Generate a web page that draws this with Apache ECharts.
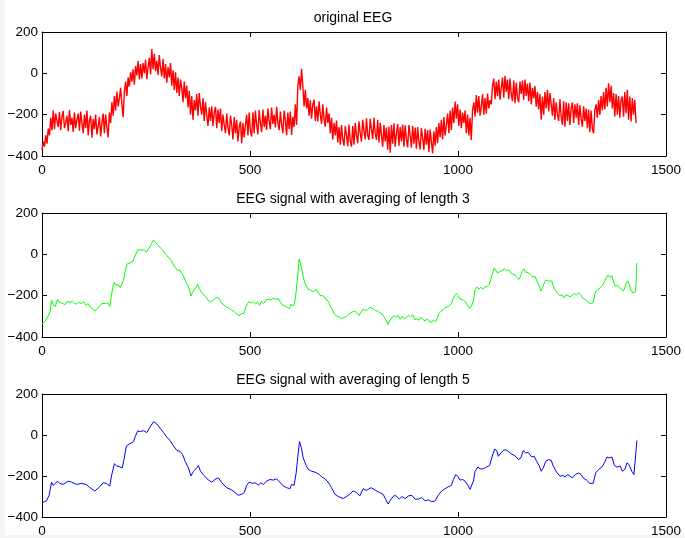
<!DOCTYPE html>
<html><head><meta charset="utf-8">
<script src="https://cdn.jsdelivr.net/npm/echarts@6/dist/echarts.min.js"></script>
<style>html,body{margin:0;padding:0;background:#f5f5f5}
#bg{position:absolute;left:5px;top:0;width:680px;height:535px;background:#fff}
#c{position:absolute;left:0;top:0;width:685px;height:538px}</style>
</head><body><div id="bg"></div><div id="c"></div>
<script>
const titles = ['original EEG', 'EEG signal with averaging of length 3', 'EEG signal with averaging of length 5'];
const xTicks = [0, 500, 1000, 1500];
const yTicks = [-400, -200, 0, 200];
const redStep = 3;
const redY = [
-372,-330,-355,-300,-340,-268,-300,-215,-275,-180,
-270,-195,-230,-260,-186,-275,-210,-182,-265,-240,
-205,-280,-178,-250,-215,-283,-190,-265,-225,-195,
-278,-185,-240,-290,-200,-265,-180,-300,-230,-205,
-312,-220,-270,-200,-295,-255,-210,-305,-240,-195,
-290,-200,-260,-310,-190,-240,-140,-205,-110,-180,
-88,-160,-120,-70,-150,-212,-90,-40,-110,-20,
-65,5,-40,20,-55,35,-10,60,-30,45,
-25,50,0,65,-28,30,75,-5,118,20,
95,10,60,-8,88,25,-15,70,-25,45,
-45,30,-20,50,-60,15,-80,5,-95,-20,
-110,-30,-70,-140,-40,-120,-60,-165,-85,-200,
-110,-225,-130,-180,-100,-205,-95,-160,-200,-120,
-230,-140,-200,-255,-165,-230,-160,-255,-190,-162,
-265,-175,-240,-170,-280,-200,-250,-290,-195,-260,
-300,-205,-250,-320,-212,-290,-225,-330,-260,-232,
-338,-240,-310,-250,-200,-300,-190,-280,-306,-188,
-290,-180,-250,-295,-178,-240,-285,-175,-260,-205,
-274,-170,-230,-270,-165,-245,-200,-262,-162,-240,
-275,-185,-250,-290,-180,-225,-300,-190,-270,-185,
-298,-210,-260,-150,-250,-60,-15,-80,22,-60,
-160,-80,-170,-120,-205,-130,-220,-150,-128,-230,
-160,-233,-135,-200,-245,-150,-220,-258,-165,-240,
-195,-290,-215,-320,-240,-300,-228,-335,-260,-345,
-250,-320,-350,-255,-300,-352,-248,-330,-355,-255,
-345,-240,-300,-338,-232,-290,-330,-225,-280,-320,
-218,-300,-322,-220,-270,-318,-215,-290,-322,-225,
-335,-240,-300,-355,-250,-330,-262,-370,-258,-384,
-250,-340,-242,-355,-290,-245,-350,-260,-330,-248,
-355,-252,-320,-358,-250,-300,-360,-255,-340,-262,
-365,-260,-330,-368,-265,-310,-371,-268,-345,-275,
-380,-272,-330,-387,-280,-350,-260,-338,-240,-310,
-225,-320,-212,-300,-250,-195,-290,-180,-274,-165,
-240,-136,-220,-150,-255,-175,-265,-190,-240,-180,
-290,-200,-300,-215,-322,-180,-140,-209,-105,-190,
-110,-205,-160,-102,-200,-120,-195,-98,-170,-130,
-150,-60,-25,-125,-40,-110,-30,-128,-70,-20,
-118,-12,-90,-30,-125,-25,-100,-135,-35,-144,
-45,-120,-140,-40,-100,-35,-128,-30,-110,-50,
-135,-45,-150,-70,-120,-62,-161,-90,-175,-100,
-225,-112,-200,-90,-170,-80,-185,-95,-150,-205,
-120,-225,-140,-200,-230,-125,-210,-250,-135,-258,
-140,-230,-145,-250,-170,-140,-240,-150,-215,-145,
-250,-155,-220,-258,-160,-230,-170,-265,-175,-285,
-180,-270,-290,-178,-150,-215,-128,-200,-110,-180,
-90,-175,-70,-160,-48,-140,-60,-170,-95,-209,
-100,-200,-110,-215,-130,-112,-210,-90,-193,-80,
-225,-112,-233,-120,-200,-128,-241
];
const greenX = [0,4,8,12,16,20,23,26,29,32,35,38,41,45,50,55,60,64,68,73,78,83,88,94,100,106,111,116,121,127,133,139,144,148,153,158,163,166,170,174,178,183,188,192,196,200,204,208,213,218,222,226,230,234,238,242,246,251,255,259,264,268,272,276,281,286,291,296,301,306,311,316,321,326,331,336,341,346,351,355,358,362,366,370,374,378,382,387,393,399,405,410,415,420,425,430,437,444,450,456,462,468,474,480,486,490,494,498,503,508,513,518,523,528,533,538,544,550,556,562,568,573,578,584,590,595,599,603,607,611,615,618,621,624,628,632,636,640,645,650,655,659,664,668,672,677,682,688,693,698,703,708,714,720,726,732,737,742,747,752,757,762,767,772,777,782,788,794,800,806,812,818,823,828,832,836,841,846,851,856,861,866,871,876,881,886,891,896,901,906,911,916,921,926,931,936,941,946,950,954,959,964,969,974,979,984,988,992,996,1000,1004,1008,1013,1018,1023,1028,1032,1035,1038,1041,1045,1050,1055,1060,1065,1070,1075,1079,1083,1087,1091,1095,1099,1103,1107,1112,1117,1122,1127,1132,1137,1142,1146,1150,1154,1158,1162,1166,1170,1175,1180,1185,1190,1195,1199,1203,1207,1211,1215,1220,1225,1230,1235,1240,1245,1250,1255,1260,1265,1270,1275,1280,1285,1290,1295,1300,1305,1310,1315,1320,1325,1329,1333,1338,1343,1348,1353,1357,1361,1365,1370,1374,1378,1383,1388,1392,1396,1400,1404,1408,1412,1416,1420,1424,1427,1430];
const greenY = [-337,-328,-322,-318,-296,-270,-222,-240,-248,-252,-230,-218,-232,-240,-238,-244,-228,-220,-232,-226,-236,-242,-232,-238,-230,-246,-238,-256,-262,-275,-262,-250,-238,-230,-238,-234,-252,-210,-160,-134,-150,-146,-160,-162,-125,-80,-48,-46,-40,-36,-14,2,22,15,20,14,22,10,18,36,54,70,58,52,40,28,18,4,-8,-20,-30,-52,-66,-78,-76,-92,-110,-134,-152,-175,-202,-185,-170,-160,-145,-165,-180,-192,-205,-222,-230,-224,-215,-208,-212,-230,-246,-255,-262,-270,-276,-290,-296,-288,-284,-255,-238,-228,-236,-230,-240,-232,-246,-228,-238,-222,-216,-222,-212,-218,-214,-232,-246,-250,-258,-262,-240,-250,-240,-180,-100,-24,-40,-68,-110,-138,-155,-170,-172,-180,-178,-168,-186,-198,-205,-202,-218,-226,-250,-268,-290,-298,-302,-312,-306,-300,-290,-284,-278,-274,-284,-296,-280,-264,-272,-268,-256,-262,-270,-274,-282,-290,-305,-322,-340,-320,-308,-296,-304,-296,-314,-300,-312,-306,-296,-302,-292,-316,-312,-318,-304,-316,-322,-312,-324,-330,-318,-326,-310,-286,-276,-268,-258,-256,-248,-240,-215,-200,-190,-200,-216,-210,-222,-230,-248,-262,-268,-240,-210,-172,-158,-168,-160,-168,-158,-156,-146,-120,-92,-66,-72,-90,-96,-82,-78,-70,-78,-76,-90,-96,-100,-112,-122,-108,-82,-70,-86,-80,-90,-100,-110,-106,-130,-150,-178,-162,-140,-124,-118,-130,-128,-158,-176,-190,-200,-196,-210,-196,-200,-206,-196,-190,-196,-186,-196,-212,-218,-226,-236,-238,-234,-190,-175,-168,-160,-148,-130,-110,-100,-112,-104,-135,-155,-150,-158,-154,-178,-168,-140,-128,-146,-174,-186,-195,-180,-43];
const blueX = [0,6,11,17,23,27,31,37,42,51,63,71,83,95,107,115,127,139,147,155,163,167,174,179,187,193,197,203,211,220,224,230,236,244,252,258,268,276,284,292,300,308,316,324,332,338,344,352,358,364,370,376,381,389,400,408,416,424,432,444,456,464,472,480,486,492,498,506,512,520,526,532,540,548,556,564,572,580,588,596,600,606,611,615,619,623,628,635,640,648,656,660,667,672,680,688,696,704,712,724,732,740,748,756,764,772,780,791,800,812,820,826,832,839,847,853,859,865,873,881,889,897,905,913,921,929,937,945,949,954,961,969,977,984,989,995,1000,1005,1011,1017,1024,1029,1033,1037,1041,1048,1053,1061,1069,1076,1081,1088,1093,1097,1103,1109,1115,1121,1129,1137,1145,1151,1157,1163,1169,1177,1183,1189,1195,1200,1205,1211,1217,1224,1229,1237,1245,1252,1257,1264,1269,1275,1282,1290,1296,1301,1309,1317,1325,1331,1338,1346,1352,1358,1363,1370,1376,1382,1390,1395,1402,1406,1411,1418,1423,1426,1430];
const blueY = [-332,-325,-321,-294,-230,-246,-254,-225,-236,-241,-225,-230,-241,-236,-242,-257,-273,-252,-233,-236,-249,-200,-140,-150,-156,-160,-120,-53,-43,-32,-8,20,17,21,12,33,65,54,33,12,-11,-27,-53,-75,-80,-96,-128,-160,-200,-177,-165,-149,-177,-197,-220,-230,-217,-209,-233,-257,-268,-281,-294,-289,-281,-246,-230,-236,-233,-244,-233,-241,-225,-217,-220,-214,-230,-249,-257,-262,-241,-246,-185,-104,-32,-59,-112,-149,-168,-177,-181,-173,-193,-204,-214,-230,-257,-289,-300,-310,-300,-289,-273,-281,-297,-262,-270,-257,-268,-281,-289,-313,-337,-313,-294,-300,-313,-300,-310,-297,-294,-313,-313,-305,-321,-316,-326,-321,-313,-289,-273,-262,-252,-246,-217,-193,-204,-220,-217,-225,-246,-265,-262,-225,-177,-156,-165,-165,-156,-149,-112,-69,-75,-104,-88,-75,-72,-80,-93,-101,-120,-112,-75,-88,-85,-107,-104,-128,-149,-177,-160,-128,-120,-123,-152,-181,-201,-197,-204,-193,-201,-209,-193,-185,-193,-209,-220,-236,-236,-185,-168,-156,-136,-107,-112,-107,-149,-156,-152,-177,-165,-136,-144,-177,-193,-185,-27];
const colors = ['#ff0000', '#00ff00', '#0000ff'];

const FONT = "'Liberation Sans', Arial, Helvetica, sans-serif";
const tops = [32, 213, 394];
const titleTops = [6, 187, 368];
const H = 124;
const lineWidths = [1.4, 1, 1];
const fmtY = v => String(v).replace('-', '\u2212');
const fmtX = v => String(v);

const redData = redY.map((v, i) => [i * redStep, v]);
const greenData = greenX.map((x, i) => [x, greenY[i]]);
const blueData = blueX.map((x, i) => [x, blueY[i]]);
const seriesData = [redData, greenData, blueData];

const grid = [], xAxis = [], yAxis = [], series = [], title = [];
tops.forEach((t, k) => {
  grid.push({left: 42, right: 19, top: t, height: H, containLabel: false});
  title.push({text: titles[k], left: 348, top: titleTops[k], textAlign: 'center',
    textStyle: {fontFamily: FONT, fontSize: 14, fontWeight: 'normal', color: '#000'}});
  const axLine = {show: true, onZero: false, lineStyle: {color: '#000', width: 1}};
  const tick = {show: true, inside: true, length: 5, lineStyle: {color: '#000', width: 1}};
  xAxis.push({gridIndex: k, type: 'value', position: 'bottom', min: xTicks[0], max: xTicks[xTicks.length-1], interval: 500,
    axisLine: axLine, axisTick: tick, splitLine: {show: false},
    axisLabel: {show: true, margin: 7, fontFamily: FONT, fontSize: 13.5, color: '#000', formatter: fmtX, showMinLabel: true, showMaxLabel: true}});
  xAxis.push({gridIndex: k, type: 'value', position: 'top', min: xTicks[0], max: xTicks[xTicks.length-1], interval: 500,
    axisLine: axLine, axisTick: tick, splitLine: {show: false}, axisLabel: {show: false}});
  yAxis.push({gridIndex: k, type: 'value', position: 'left', min: yTicks[0], max: yTicks[yTicks.length-1], interval: 200,
    axisLine: axLine, axisTick: tick, splitLine: {show: false},
    axisLabel: {show: true, margin: 4, fontFamily: FONT, fontSize: 13.5, color: '#000', formatter: fmtY, showMinLabel: true, showMaxLabel: true}});
  yAxis.push({gridIndex: k, type: 'value', position: 'right', min: yTicks[0], max: yTicks[yTicks.length-1], interval: 200,
    axisLine: axLine, axisTick: tick, splitLine: {show: false}, axisLabel: {show: false}});
  series.push({type: 'line', xAxisIndex: 2*k, yAxisIndex: 2*k, data: seriesData[k], showSymbol: false, symbol: 'none',
    lineStyle: {color: colors[k], width: lineWidths[k]}, animation: false, silent: true, clip: true});
});

const chart = echarts.init(document.getElementById('c'), null, {renderer: 'canvas'});
chart.setOption({backgroundColor: 'transparent', animation: false, title, grid, xAxis, yAxis, series});
</script></body></html>
